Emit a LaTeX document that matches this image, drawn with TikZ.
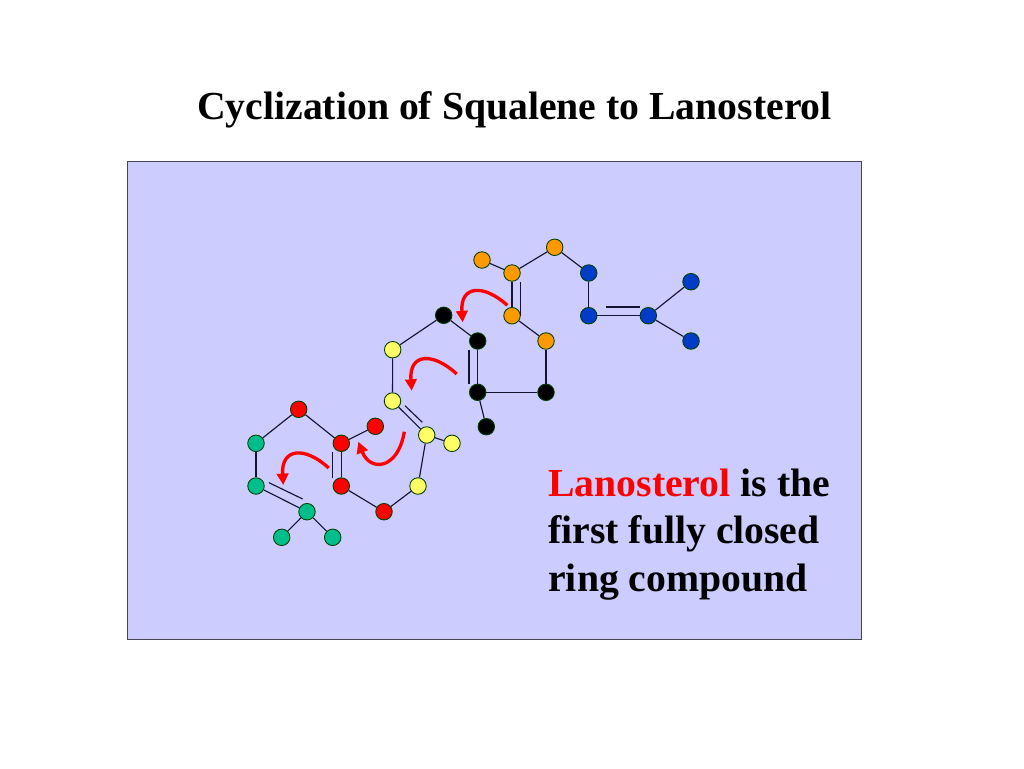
\documentclass[tikz,border=0pt]{standalone}
\usepackage{fontspec}
\setmainfont{Liberation Serif}
\usetikzlibrary{arrows.meta}
\definecolor{panelblue}{RGB}{204,204,255}
\definecolor{panelline}{RGB}{70,70,80}
\definecolor{atomgreen}{RGB}{0,190,140}
\definecolor{atomyellow}{RGB}{255,255,102}
\definecolor{atomorange}{RGB}{255,153,0}
\definecolor{atomblue}{RGB}{0,60,200}
\definecolor{bondline}{RGB}{20,20,50}
\begin{document}
\begin{tikzpicture}[x=0.02cm,y=-0.02cm]
\tikzstyle{every node}+=[inner sep=0pt]
\tikzstyle{atom}=[circle,draw=black!75!green,line width=0.5pt,minimum size=16.5*0.02cm]
\tikzstyle{bond}=[bondline,line width=0.65pt]
\tikzstyle{push}=[red,line width=1.9pt,-{Triangle[length=6.5pt,width=6.5pt]}]
\useasboundingbox (0,0) rectangle (1024,768);
\node (panel) [draw=panelline,fill=panelblue,line width=0.45pt,minimum width=734*0.02cm,minimum height=478*0.02cm] at (494.7,400.7) {};
\node (title) [font=\bfseries\fontsize{22.6}{27}\selectfont] at (514.5,109.5) {Cyclization of Squalene to Lanosterol};
\node (note) [font=\bfseries\fontsize{22.6}{27}\selectfont,align=left,anchor=base west] at (548,591) {\textcolor{red}{Lanosterol} is the\\first fully closed\\ring compound};
% tail
\node (g1) [atom,fill=atomgreen] at (256,443.3) {};
\node (g2) [atom,fill=atomgreen] at (256,486) {};
\node (g3) [atom,fill=atomgreen] at (307,511.7) {};
\node (g4) [atom,fill=atomgreen] at (281.7,537.3) {};
\node (g5) [atom,fill=atomgreen] at (332.7,537.3) {};
% red unit
\node (r1) [atom,fill=red] at (298.7,409.3) {};
\node (r2) [atom,fill=red] at (341.3,443.3) {};
\node (r3) [atom,fill=red] at (341.3,486) {};
\node (r4) [atom,fill=red] at (375.3,426.3) {};
\node (r5) [atom,fill=red] at (384,511.7) {};
% yellow unit
\node (y1) [atom,fill=atomyellow] at (418,486) {};
\node (y2) [atom,fill=atomyellow] at (426.7,435) {};
\node (y3) [atom,fill=atomyellow] at (452,443.3) {};
\node (y4) [atom,fill=atomyellow] at (392.5,401) {};
\node (y5) [atom,fill=atomyellow] at (392.7,349.7) {};
% black unit
\node (k1) [atom,fill=black] at (443.7,315.3) {};
\node (k2) [atom,fill=black] at (477.7,341) {};
\node (k3) [atom,fill=black] at (477.7,392.3) {};
\node (k4) [atom,fill=black] at (546,392.3) {};
\node (k5) [atom,fill=black] at (486.3,426.7) {};
% orange unit
\node (o1) [atom,fill=atomorange] at (546,341) {};
\node (o2) [atom,fill=atomorange] at (512,315.7) {};
\node (o3) [atom,fill=atomorange] at (512,273) {};
\node (o4) [atom,fill=atomorange] at (482,260) {};
\node (o5) [atom,fill=atomorange] at (554.7,247.3) {};
% blue unit
\node (b1) [atom,fill=atomblue] at (588.7,273) {};
\node (b2) [atom,fill=atomblue] at (588.7,315.7) {};
\node (b3) [atom,fill=atomblue] at (648.3,315.7) {};
\node (b4) [atom,fill=atomblue] at (691,281.7) {};
\node (b5) [atom,fill=atomblue] at (691,341) {};
% bonds
\draw [bond] (r1) -- (g1);
\draw [bond] (g1) -- (g2);
\draw [bond] (g2) -- (g3);
\draw [bond] (g3) -- (g4);
\draw [bond] (g3) -- (g5);
\draw [bond] (r1) -- (r2);
\draw [bond] (r2) -- (r3);
\draw [bond] (r2) -- (r4);
\draw [bond] (r3) -- (r5);
\draw [bond] (r5) -- (y1);
\draw [bond] (y1) -- (y2);
\draw [bond] (y2) -- (y3);
\draw [bond] (y2) -- (y4);
\draw [bond] (y4) -- (y5);
\draw [bond] (y5) -- (k1);
\draw [bond] (k1) -- (k2);
\draw [bond] (k2) -- (k3);
\draw [bond] (k3) -- (k4);
\draw [bond] (k3) -- (k5);
\draw [bond] (k4) -- (o1);
\draw [bond] (o1) -- (o2);
\draw [bond] (o2) -- (o3);
\draw [bond] (o3) -- (o4);
\draw [bond] (o3) -- (o5);
\draw [bond] (o5) -- (b1);
\draw [bond] (b1) -- (b2);
\draw [bond] (b2) -- (b3);
\draw [bond] (b3) -- (b4);
\draw [bond] (b3) -- (b5);
% second lines of the double bonds
\coordinate (d1a) at (269,482.7);
\coordinate (d1b) at (302.7,499);
\coordinate (d2a) at (332.7,452.3);
\coordinate (d2b) at (332.7,477.7);
\coordinate (d3a) at (405,405.7);
\coordinate (d3b) at (422.3,422.3);
\coordinate (d4a) at (469,350);
\coordinate (d4b) at (469,384);
\coordinate (d5a) at (520.3,281.7);
\coordinate (d5b) at (520.3,315.7);
\coordinate (d6a) at (606,307);
\coordinate (d6b) at (640,307);
\draw [bond] (d1a) -- (d1b);
\draw [bond] (d2a) -- (d2b);
\draw [bond] (d3a) -- (d3b);
\draw [bond] (d4a) -- (d4b);
\draw [bond] (d5a) -- (d5b);
\draw [bond] (d6a) -- (d6b);
% electron pushes
\coordinate (p1a) at (328.7,468);
\coordinate (p1b) at (283.3,485);
\coordinate (p2a) at (404.3,431.7);
\coordinate (p2b) at (358.3,441.7);
\coordinate (p3a) at (507.3,305.3);
\coordinate (p3b) at (462.7,322.3);
\coordinate (p4a) at (456.7,374);
\coordinate (p4b) at (411.7,390.7);
\draw [push] (p1a) .. controls (305,446) and (281,448) .. (p1b);
\draw [push] (p2a) .. controls (398,470) and (370,472) .. (p2b);
\draw [push] (p3a) .. controls (484,284) and (460,285) .. (p3b);
\draw [push] (p4a) .. controls (433,352) and (409,353) .. (p4b);
\end{tikzpicture}
\end{document}
